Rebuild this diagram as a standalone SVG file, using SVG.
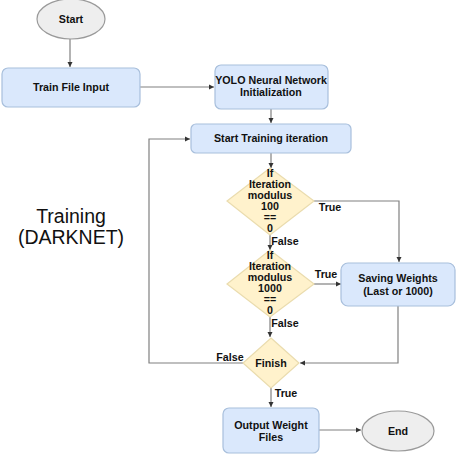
<svg xmlns="http://www.w3.org/2000/svg" width="474" height="455" viewBox="0 0 474 455">
<defs>
<marker id="ah" markerWidth="6" markerHeight="6" refX="5" refY="3" orient="auto" markerUnits="userSpaceOnUse">
<path d="M0,0.5 L5,3 L0,5.5 Z" fill="#333"/>
</marker>
<style>
.box{fill:#dae8fc;stroke:#a8bfdc;stroke-width:1.2}
.dia{fill:#fff2cc;stroke:#eadcae;stroke-width:1.2}
.ell{fill:#eeeeee;stroke:#9a9a9a;stroke-width:1.2}
.t{font-family:"Liberation Sans",Arial,sans-serif;font-weight:bold;font-size:10.7px;fill:#111;text-anchor:middle}
.big{font-family:"Liberation Sans",Arial,sans-serif;font-size:19.5px;fill:#111;text-anchor:middle}
.c{fill:none;stroke:#808080;stroke-width:1.2}
</style>
</defs>
<rect width="474" height="455" fill="#ffffff"/>
<g id="connectors">
<path class="c" d="M70,39 L70,67" marker-end="url(#ah)"/>
<path class="c" d="M140,87 L214,87" marker-end="url(#ah)"/>
<path class="c" d="M271,109 L271,123" marker-end="url(#ah)"/>
<path class="c" d="M271,153 L271,168" marker-end="url(#ah)"/>
<path class="c" d="M314,201 L399,201 L399,262" marker-end="url(#ah)"/>
<path class="c" d="M270,235 L270,250" marker-end="url(#ah)"/>
<path class="c" d="M314,284 L341,284" marker-end="url(#ah)"/>
<path class="c" d="M270,317 L270,337" marker-end="url(#ah)"/>
<path class="c" d="M398,306 L398,363 L300,363" marker-end="url(#ah)"/>
<path class="c" d="M243,363 L149,363 L149,139 L190,139" marker-end="url(#ah)"/>
<path class="c" d="M271,388 L271,407" marker-end="url(#ah)"/>
<path class="c" d="M319,430 L361,430" marker-end="url(#ah)"/>
<text class="t" x="330" y="211">True</text>
<text class="t" x="285" y="245">False</text>
<text class="t" x="326" y="278">True</text>
<text class="t" x="285" y="327">False</text>
<text class="t" x="230" y="361">False</text>
<text class="t" x="286" y="397">True</text>
</g>
<g id="start">
<ellipse class="ell" cx="71" cy="19" rx="34" ry="20"/>
<text class="t" x="71" y="23">Start</text>
</g>
<g id="train-file-input">
<rect class="box" x="2" y="68" width="138" height="39" rx="6"/>
<text class="t" x="71" y="91">Train File Input</text>
</g>
<g id="yolo-init">
<rect class="box" x="215" y="65" width="113" height="44" rx="6"/>
<text class="t" x="271" y="84">YOLO Neural Network</text>
<text class="t" x="271" y="96">Initialization</text>
</g>
<g id="start-training">
<rect class="box" x="191" y="124" width="160" height="29" rx="5"/>
<text class="t" x="271" y="142">Start Training iteration</text>
</g>
<g id="if-100">
<polygon class="dia" points="270,168 314,201 270,235 227,201"/>
<text class="t" x="270" y="177">If</text>
<text class="t" x="270" y="188">Iteration</text>
<text class="t" x="270" y="199">modulus</text>
<text class="t" x="270" y="210">100</text>
<text class="t" x="270" y="221">==</text>
<text class="t" x="270" y="232">0</text>
</g>
<g id="if-1000">
<polygon class="dia" points="270,250 314,284 270,317 227,284"/>
<text class="t" x="270" y="259">If</text>
<text class="t" x="270" y="270">Iteration</text>
<text class="t" x="270" y="281">modulus</text>
<text class="t" x="270" y="292">1000</text>
<text class="t" x="270" y="303">==</text>
<text class="t" x="270" y="314">0</text>
</g>
<g id="saving-weights">
<rect class="box" x="341" y="263" width="114" height="43" rx="7"/>
<text class="t" x="398" y="282">Saving Weights</text>
<text class="t" x="398" y="295">(Last or 1000)</text>
</g>
<g id="finish">
<polygon class="dia" points="271,338 299,363 271,388 243,363"/>
<text class="t" x="271" y="367">Finish</text>
</g>
<g id="output-weight-files">
<rect class="box" x="223" y="408" width="96" height="45" rx="6"/>
<text class="t" x="271" y="429">Output Weight</text>
<text class="t" x="271" y="441">Files</text>
</g>
<g id="end">
<ellipse class="ell" cx="398" cy="431" rx="36" ry="20"/>
<text class="t" x="398" y="435">End</text>
</g>
<g id="label">
<text class="big" x="71" y="223">Training</text>
<text class="big" x="71" y="244">(DARKNET)</text>
</g>
</svg>
